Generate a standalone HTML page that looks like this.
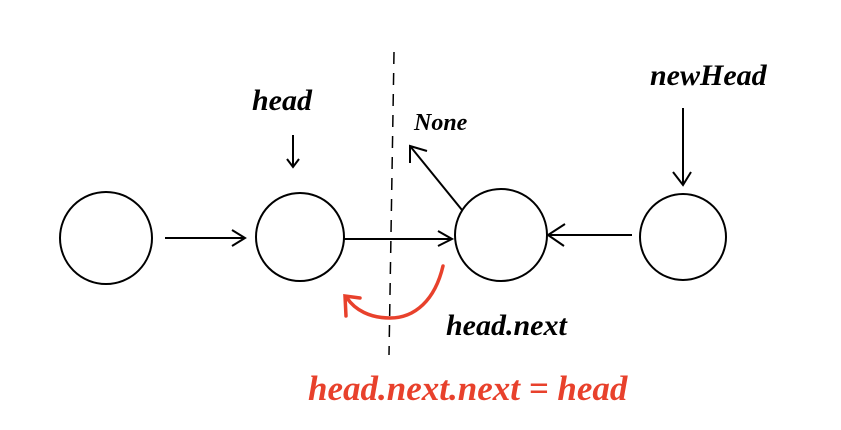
<!DOCTYPE html>
<html><head><meta charset="utf-8"><style>
html,body{margin:0;padding:0;background:#fff;width:841px;height:430px;overflow:hidden}
text{font-family:"Liberation Serif",serif;font-style:italic;font-weight:bold}
</style></head><body>
<svg width="841" height="430" viewBox="0 0 841 430" xmlns="http://www.w3.org/2000/svg">
<g fill="none" stroke="#000" stroke-width="2">
<circle cx="106" cy="238" r="46"/>
<circle cx="300" cy="237" r="44"/>
<circle cx="501" cy="235" r="46"/>
<circle cx="683" cy="237" r="43"/>
<line x1="165" y1="238" x2="245" y2="238"/><polyline points="232,230 245,238 232,246"/>
<line x1="344" y1="239" x2="452" y2="239"/><polyline points="438,231 452,239 438,246"/>
<line x1="632" y1="235" x2="548" y2="235"/><polyline points="565,224 548,235 564,246"/>
<line x1="683" y1="108" x2="683" y2="185"/><polyline points="673,172 683,185 691,172"/>
<line x1="293" y1="135" x2="293" y2="167"/><polyline points="287,159 293,167 299,159"/>
<line x1="462" y1="210" x2="410" y2="146"/><polyline points="410,163 410,146 427,151"/>
<line x1="394" y1="52" x2="389" y2="355" stroke-width="1.5" stroke-dasharray="12,9"/>
</g>
<g fill="none" stroke="#e8412c" stroke-width="3.5" stroke-linecap="round">
<path d="M443,266 C435,300 415,318 390,318 C370,318 355,310 347,298"/>
<polyline points="346,316 345,296 360,298"/>
</g>
<g font-size="30" fill="#000">
<text x="252" y="110">head</text>
<text x="414" y="130" font-size="24">None</text>
<text x="650" y="85">newHead</text>
<text x="446" y="335">head.next</text>
</g>
<text x="308" y="400" font-size="35" fill="#e8412c">head.next.next = head</text>
</svg>
</body></html>
